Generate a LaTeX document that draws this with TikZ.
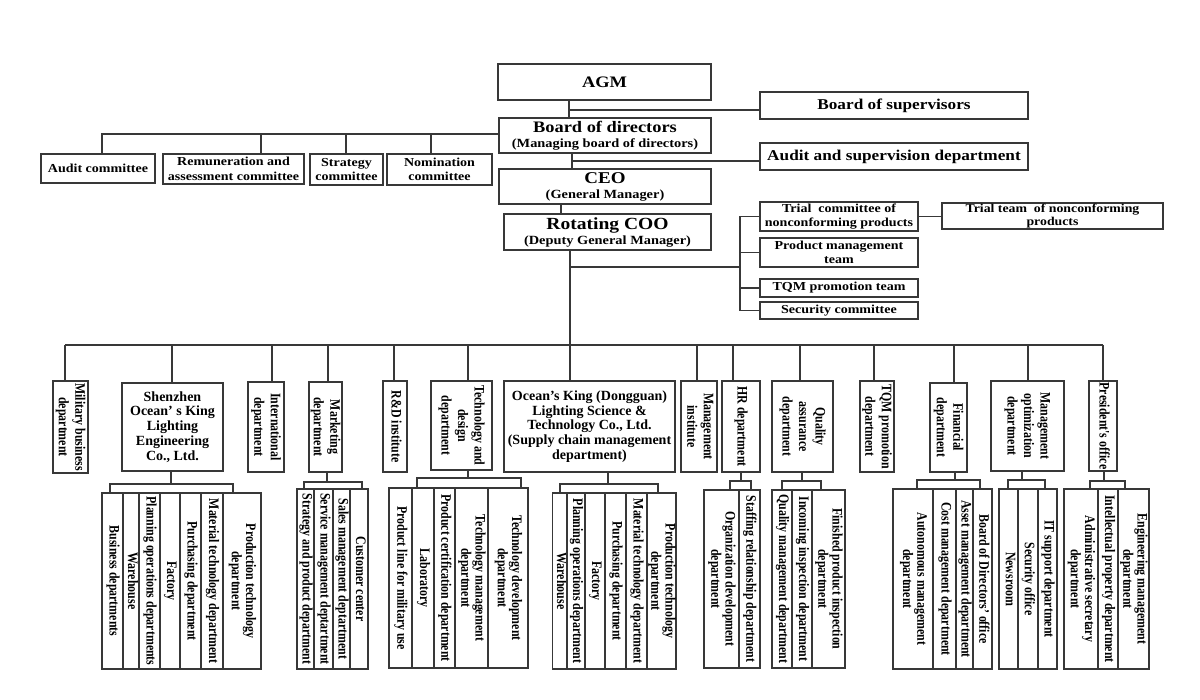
\documentclass[tikz,border=0pt]{standalone}
\usepackage{fontspec}
\usepackage{graphicx}
\setmainfont{Liberation Serif}
\newfontfamily\wfont{Liberation Serif}[FakeStretch=1.15]
\newfontfamily\nfont{Liberation Serif}[FakeStretch=0.82]
\definecolor{lc}{HTML}{383838}
\newcommand\vt[1]{\rotatebox{-90}{\begin{tabular}{@{}c@{}}#1\end{tabular}}}
\newcommand\fsz[2]{\fontsize{#1}{#2}\selectfont}
\newcommand\bx[7][]{\node[box,#1,minimum width={#5pt-#3pt},minimum height={#6pt-#4pt}] (#2) at ({(#3+#5)/2},{(#4+#6)/2}) {#7};}
\newcommand\drop[3]{\coordinate (#1d) at (#2,#3); \draw[ln] (#1d) -- (#1.north -| #1d);}
\newcommand\grp[7]{%
 \coordinate (#1b) at (#2,#3);
 \coordinate (#1l) at (#4,#3);
 \coordinate (#1r) at (#5,#3);
 \draw[ln] (#1.south -| #1b) -- (#1b);
 \draw[ln] (#6.north -| #1l) -- (#1l) -- (#1r) -- (#7.north -| #1r);}
\begin{document}
\begin{tikzpicture}[x=1pt,y=-1pt,
  box/.style={draw=lc,line width=1.1pt,fill=white,inner sep=0pt,outer sep=0pt,align=center,text=black},
  ln/.style={draw=lc,line width=1.1pt},
  small/.style={font=\wfont\bfseries\fsz{12.2}{14.5}},
  mid/.style={font=\wfont\bfseries\fsz{12.5}{15}},
  hdept/.style={font=\bfseries\fsz{14}{14.8}},
  vtop/.style={font=\nfont\bfseries\fsz{14.5}{16.5}},
  vbot/.style={font=\nfont\bfseries\fsz{14.5}{13.8}}]
\fill[white] (0,0) rectangle (1200,700);
\useasboundingbox (0,0) rectangle (1200,700);

% ---------- top ----------
\bx[font=\wfont\bfseries\fsz{16}{18}]{agm}{498}{64}{711}{100}{AGM}
\bx[font=\wfont\bfseries\fsz{15}{18}]{sup}{760}{92}{1028}{119}{Board of supervisors}
\bx[mid]{bod}{499}{118}{711}{153}{{\fsz{16}{15}Board of directors}\\(Managing board of directors)}
\bx[font=\wfont\bfseries\fsz{15}{18}]{asd}{760}{143}{1028}{170}{Audit and supervision department}
\bx[mid]{ceo}{499}{169}{711}{204}{{\fsz{16.5}{15}CEO}\\(General Manager)}
\bx[mid]{coo}{504}{214}{711}{250}{{\fsz{17}{15}Rotating COO}\\(Deputy General Manager)}

\bx[small]{ac}{41}{154}{155}{183}{Audit committee}
\bx[small]{rc}{163}{154}{304}{184}{Remuneration and\\assessment committee}
\bx[small]{stc}{310}{154}{383}{185}{Strategy\\committee}
\bx[small]{nc}{387}{154}{492}{185}{Nomination\\committee}

\bx[small]{tc}{760}{202}{918}{231}{Trial~ committee of\\nonconforming products}
\bx[small,font=\wfont\bfseries\fsz{12}{13.5}]{tt}{942}{203}{1163}{229}{Trial team~ of nonconforming\\products}
\bx[small]{pm}{760}{238}{918}{267}{Product management\\team}
\bx[small]{tq}{760}{279}{918}{297}{TQM promotion team}
\bx[small]{sc}{760}{302}{918}{319}{Security committee}

% spine
\coordinate (s1) at (569,0);
\coordinate (s2) at (572,0);
\coordinate (s3) at (561,0);
\coordinate (s4) at (570,0);
\draw[ln] (agm.south -| s1) -- (bod.north -| s1);
\draw[ln] (bod.south -| s2) -- (ceo.north -| s2);
\draw[ln] (ceo.south -| s3) -- (coo.north -| s3);
\coordinate (supc) at (569,110);
\draw[ln] (supc) -- (sup.west |- supc);
\coordinate (asdc) at (572,161);
\draw[ln] (asdc) -- (asd.west |- asdc);

% committees
\coordinate (cbus) at (499,134);
\coordinate (acd) at (102,134);
\coordinate (rcd) at (261,134);
\coordinate (stcd) at (346,134);
\coordinate (ncd) at (431,134);
\draw[ln] (cbus) -- (acd) -- (ac.north -| acd);
\draw[ln] (rcd) -- (rc.north -| rcd);
\draw[ln] (stcd) -- (stc.north -| stcd);
\draw[ln] (ncd) -- (nc.north -| ncd);

% right teams
\coordinate (coor) at (570,267);
\coordinate (brk) at (740,267);
\draw[ln] (coor) -- (brk);
\draw[ln] (tc.west) -| (brk);
\draw[ln] (sc.west) -| (brk);
\draw[ln] (pm.west) -- (pm.west -| brk);
\draw[ln] (tq.west) -- (tq.west -| brk);
\draw[ln] (tc.east) -- (tc.east -| tt.west);

% ---------- department row ----------
\bx[vtop]{mil}{53}{381}{88}{473}{\vt{Military business\\department}}
\bx[hdept]{sz}{122}{383}{223}{471}{Shenzhen\\Ocean’ s King\\Lighting\\Engineering\\Co., Ltd.}
\bx[vtop]{intl}{248}{382}{284}{472}{\vt{International\\department}}
\bx[vtop]{mkt}{310}{382}{341}{472}{\vt{Marketing\\department}}
\bx[vtop]{rd}{383}{381}{407}{472}{\vt{R\&D institute}}
\bx[vtop]{td}{431}{381}{492}{470}{\vt{Technology and\\design\\department}}
\bx[hdept]{dg}{504}{381}{675}{472}{Ocean's King (Dongguan)\\Lighting Science \&\\Technology Co., Ltd.\\(Supply chain management\\department)}
\bx[vtop]{mi}{681}{381}{717}{472}{\vt{Management\\institute}}
\bx[vtop]{hr}{722}{381}{760}{472}{\vt{HR department}}
\bx[vtop]{qa}{772}{381}{833}{472}{\vt{Quality\\assurance\\department}}
\bx[vtop]{tqd}{860}{381}{894}{472}{\vt{TQM promotion\\department}}
\bx[vtop]{fin}{930}{383}{967}{472}{\vt{Financial\\department}}
\bx[vtop]{mo}{991}{381}{1064}{471}{\vt{Management\\optimization\\department}}
\bx[vtop]{pres}{1089}{381}{1117}{471}{\vt{President's office}}

\draw[ln] (coo.south -| s4) -- (dg.north -| s4);
\coordinate (busl) at (65,345);
\coordinate (busr) at (1103,345);
\draw[ln] (busl) -- (busr);
\drop{mil}{65}{345}
\drop{sz}{172}{345}
\drop{intl}{272}{345}
\drop{mkt}{328}{345}
\drop{rd}{394}{345}
\drop{td}{468}{345}
\drop{mi}{697}{345}
\drop{hr}{733}{345}
\drop{qa}{800}{345}
\drop{tqd}{874}{345}
\drop{fin}{954}{345}
\drop{mo}{1028}{345}
\drop{pres}{1103}{345}

% ---------- bottom row ----------
% Shenzhen
\bx[vbot]{a1}{102}{493}{123}{669}{\vt{Business departments}}
\bx[vbot]{a2}{123}{493}{139}{669}{\vt{Warehouse}}
\bx[vbot]{a3}{139}{493}{160}{669}{\vt{Planning operations departments}}
\bx[vbot]{a4}{160}{493}{180}{669}{\vt{Factory}}
\bx[vbot]{a5}{180}{493}{201}{669}{\vt{Purchasing department}}
\bx[vbot]{a6}{201}{493}{223}{669}{\vt{Material technology department}}
\bx[vbot]{a7}{223}{493}{261}{669}{\vt{Production technology\\department}}
\grp{sz}{171}{484}{110}{233}{a1}{a7}
% Marketing
\bx[vbot]{b1}{297}{489}{314}{669}{\vt{Strategy and product department}}
\bx[vbot]{b2}{314}{489}{333}{669}{\vt{Service management deptartment}}
\bx[vbot]{b3}{333}{489}{350}{669}{\vt{Sales management deptartment}}
\bx[vbot]{b4}{350}{489}{368}{669}{\vt{Customer center}}
\grp{mkt}{327}{482}{304}{362}{b1}{b4}
% Technology and design
\bx[vbot]{c1}{389}{488}{412}{668}{\vt{Product line for military use}}
\bx[vbot]{c2}{412}{488}{434}{668}{\vt{Laboratory}}
\bx[vbot]{c3}{434}{488}{455}{668}{\vt{Product certification department}}
\bx[vbot]{c4}{455}{488}{488}{668}{\vt{Technology management\\department}}
\bx[vbot]{c5}{488}{488}{528}{668}{\vt{Technology development\\department}}
\grp{td}{468}{478}{417}{521}{c2}{c5}
% Dongguan
\bx[vbot]{d1}{553}{493}{567}{669}{\vt{Warehouse}}
\bx[vbot]{d2}{567}{493}{585}{669}{\vt{Planning operations department}}
\bx[vbot]{d3}{585}{493}{605}{669}{\vt{Factory}}
\bx[vbot]{d4}{605}{493}{626}{669}{\vt{Purchasing department}}
\bx[vbot]{d5}{626}{493}{647}{669}{\vt{Material technology department}}
\bx[vbot]{d6}{647}{493}{676}{669}{\vt{Production technology\\department}}
\grp{dg}{608}{484}{560}{658}{d1}{d6}
% HR
\bx[vbot]{e1}{704}{490}{739}{668}{\vt{Organization development\\department}}
\bx[vbot]{e2}{739}{490}{760}{668}{\vt{Staffing relationship department}}
\grp{hr}{741}{481}{730}{751}{e1}{e2}
% Quality assurance
\bx[vbot]{f1}{772}{490}{792}{668}{\vt{Quality management department}}
\bx[vbot]{f2}{792}{490}{812}{668}{\vt{Incoming inspection department}}
\bx[vbot]{f3}{812}{490}{845}{668}{\vt{Finished product inspection\\department}}
\grp{qa}{802}{481}{782}{821}{f1}{f3}
% Financial
\bx[vbot]{g1}{893}{489}{933}{669}{\vt{Autonomous management\\department}}
\bx[vbot]{g2}{933}{489}{956}{669}{\vt{Cost management department}}
\bx[vbot]{g3}{956}{489}{973}{669}{\vt{Asset management department}}
\bx[vbot]{g4}{973}{489}{992}{669}{\vt{Board of Directors’ office}}
\grp{fin}{955}{480}{917}{980}{g1}{g4}
% Management optimization
\bx[vbot]{h1}{999}{489}{1018}{669}{\vt{Newsroom}}
\bx[vbot]{h2}{1018}{489}{1038}{669}{\vt{Security office}}
\bx[vbot]{h3}{1038}{489}{1057}{669}{\vt{IT support department}}
\grp{mo}{1022}{480}{1008}{1045}{h1}{h3}
% President's office
\bx[vbot]{i1}{1064}{489}{1098}{669}{\vt{Administrative secretary\\department}}
\bx[vbot]{i2}{1098}{489}{1118}{669}{\vt{Intellectual property department}}
\bx[vbot]{i3}{1118}{489}{1149}{669}{\vt{Engineering management\\department}}
\grp{pres}{1104}{481}{1090}{1125}{i1}{i3}
\end{tikzpicture}
\end{document}
